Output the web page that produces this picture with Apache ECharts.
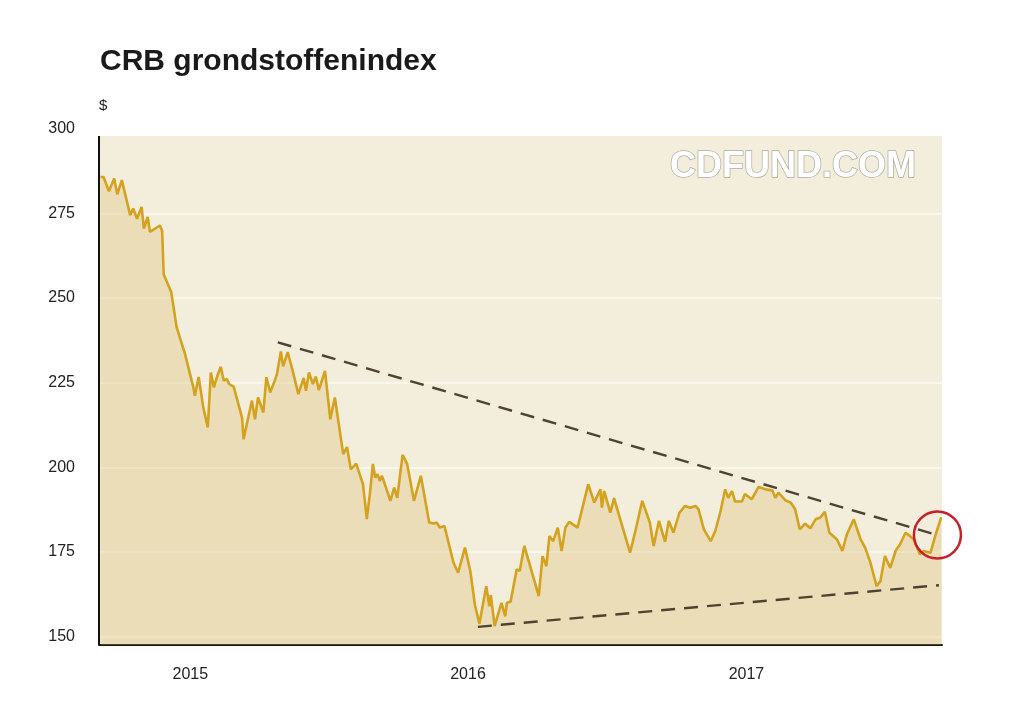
<!DOCTYPE html>
<html>
<head>
<meta charset="utf-8">
<script src="https://cdn.jsdelivr.net/npm/echarts@6/dist/echarts.min.js"></script>
<style>
html,body{margin:0;padding:0;background:#fff;}
#chart{width:1024px;height:728px;}
</style>
</head>
<body>
<div id="chart"></div>
<script>
// ---- data ----
const startDate = '2014-09-03';           // day 0 = left edge of the time axis
const endDay = 1108;                      // right edge, days after startDate
const days = [2,6,13,20,24,30,41,45,50,56,59,64,67,80,83,85,95,102,104,113,124,126,131,137,143,147,151,155,160,164,168,171,177,188,190,201,205,209,216,220,225,231,234,239,242,248,254,262,269,272,276,281,285,289,297,304,310,321,326,331,338,347,352,356,360,363,366,369,372,383,388,392,399,405,414,423,434,440,444,448,454,466,472,481,488,494,500,509,513,515,520,529,534,536,541,549,553,559,578,583,588,592,597,603,608,613,618,629,643,651,659,661,664,672,677,685,698,705,714,724,729,736,744,749,755,763,770,777,784,788,795,804,810,817,823,827,832,836,845,849,858,867,876,885,889,893,902,909,915,921,928,935,942,948,954,960,970,977,983,992,1001,1007,1014,1022,1027,1033,1040,1047,1053,1060,1066,1071,1079,1084,1093,1099,1107];
const crb = [285.7,285.7,281.5,285.3,280.6,284.8,274.4,276.4,273.4,276.9,270.5,273.9,269.5,271.4,269.8,257.0,251.7,241.4,241.9,233.5,223.6,221.1,226.7,217.7,211.8,228.0,223.6,226.6,229.7,225.6,226.1,224.6,223.8,214.7,208.3,219.7,214.2,220.6,216.2,226.6,222.1,225.6,227.6,234.2,229.8,234.0,229.0,221.6,226.4,222.6,228.0,224.6,226.8,222.8,228.5,214.2,220.6,203.9,206.0,199.4,201.1,195.0,184.7,192.1,201.0,197.0,198.0,196.0,197.5,190.1,194.0,191.0,203.7,201.0,190.1,197.5,183.7,183.4,183.7,182.2,182.7,171.8,168.9,176.3,169.4,159.5,153.8,164.9,159.0,162.3,153.1,160.0,156.0,160.0,160.3,169.9,169.4,176.8,162.0,173.8,170.8,179.7,178.2,182.2,175.3,182.2,183.9,182.2,195.0,189.6,193.5,188.1,193.0,186.6,190.9,184.7,174.8,181.2,190.1,183.7,176.8,184.2,178.0,184.2,180.7,186.6,188.6,188.1,188.6,187.6,181.7,178.2,181.2,187.1,193.5,191.0,193.0,189.9,189.9,192.1,190.6,194.2,193.5,193.2,191.0,192.5,190.3,189.6,187.6,181.7,183.4,182.0,184.7,185.2,186.9,180.7,178.7,175.3,180.2,184.7,178.7,176.3,171.8,164.9,166.4,173.8,170.3,175.3,177.3,180.7,179.7,178.7,174.3,175.3,174.8,179.7,185.2];
const yearTicks = ['2015-01-01','2016-01-01','2017-01-01'];
const yearLabels = ['2015','2016','2017'];
const yTicks = [150,175,200,225,250,275,300];
const yMin = 147.55, yMax = 300, plotTop = 297.8;
const upperTrendDays = [235, 1102], upperTrendValues = [236.9, 180.0];
const lowerTrendDays = [498, 1104], lowerTrendValues = [152.9, 165.2];
const breakoutDay = 1102, breakoutValue = 180.0;

// ---- build ----
const DAY = 86400000;
const base = Date.parse(startDate);
const seriesData = days.map((d, i) => [d, crb[i]]);
const yearDays = yearTicks.map(s => Math.round((Date.parse(s) - base) / DAY));
const FONT = '"Liberation Sans", Arial, Helvetica, sans-serif';

const chart = echarts.init(document.getElementById('chart'), null, {renderer: 'canvas'});
chart.setOption({
  animation: false,
  backgroundColor: '#ffffff',
  title: {
    text: 'CRB grondstoffenindex',
    left: 100, top: 47, padding: 0,
    textStyle: {fontSize: 30, fontWeight: 'bold', color: '#1a1a1a', fontFamily: FONT}
  },
  grid: {left: 99, right: 82, top: 128.6, bottom: 83},
  graphic: [{
    type: 'text', x: 793, y: 167, z: 10,
    style: {
      text: 'CDFUND.COM', font: 'bold 36px ' + FONT,
      fill: '#ffffff', stroke: 'rgba(130,130,130,0.6)', lineWidth: 1.5,
      align: 'center', verticalAlign: 'middle',
      shadowColor: 'rgba(0,0,0,0.25)', shadowBlur: 4
    }
  }],
  xAxis: {
    type: 'value', min: 0, max: endDay,
    axisLine: {show: true, onZero: false, lineStyle: {color: '#1a1a1a', width: 2}},
    axisTick: {show: false},
    splitLine: {show: false},
    axisLabel: {
      customValues: yearDays,
      formatter: (v) => yearLabels[yearDays.indexOf(v)] || '',
      margin: 22, fontSize: 16, color: '#222', fontFamily: FONT
    }
  },
  yAxis: {
    type: 'value', min: yMin, max: yMax,
    name: '$', nameLocation: 'end', nameGap: 15,
    nameTextStyle: {align: 'left', fontSize: 15, color: '#222', fontFamily: FONT},
    axisLine: {show: false},
    axisTick: {show: false},
    splitLine: {show: false},
    axisLabel: {customValues: yTicks, margin: 24, fontSize: 16, color: '#222', fontFamily: FONT}
  },
  series: [
    {
      type: 'line', data: seriesData, showSymbol: false, silent: true, z: 1,
      lineStyle: {opacity: 0, width: 0},
      markArea: {
        silent: true, z: 0,
        itemStyle: {color: '#f3eddc'},
        data: [[{yAxis: yMin}, {yAxis: plotTop}]]
      },
      markLine: {
        silent: true, z: 1, symbol: 'none', label: {show: false},
        lineStyle: {color: '#fbf8f0', width: 1.5, type: 'solid'},
        data: yTicks.filter(v => v < plotTop).map(v => ({yAxis: v}))
      }
    },
    {
      type: 'line', data: seriesData, showSymbol: false, z: 3,
      lineStyle: {color: '#d4a21e', width: 2.6},
      areaStyle: {origin: 'start', color: 'rgba(210,178,80,0.37)'},
      markLine: {
        silent: true, symbol: 'none', label: {show: false}, z: 5,
        data: [
          [{coord: [0, yMin], lineStyle: {color: '#111', width: 2, type: 'solid'}},
           {coord: [0, plotTop]}],
          [{coord: [upperTrendDays[0], upperTrendValues[0]], lineStyle: {color: '#4e4330', width: 2.4, type: [14, 9]}},
           {coord: [upperTrendDays[1], upperTrendValues[1]]}],
          [{coord: [lowerTrendDays[0], lowerTrendValues[0]], lineStyle: {color: '#4e4330', width: 2.4, type: [14, 9]}},
           {coord: [lowerTrendDays[1], lowerTrendValues[1]]}]
        ]
      },
      markPoint: {
        silent: true, z: 6,
        symbol: 'circle', symbolSize: 47,
        label: {show: false},
        itemStyle: {color: 'rgba(0,0,0,0)', borderColor: '#c8202a', borderWidth: 2.5},
        data: [{coord: [breakoutDay, breakoutValue]}]
      }
    }
  ]
});
</script>
</body>
</html>
